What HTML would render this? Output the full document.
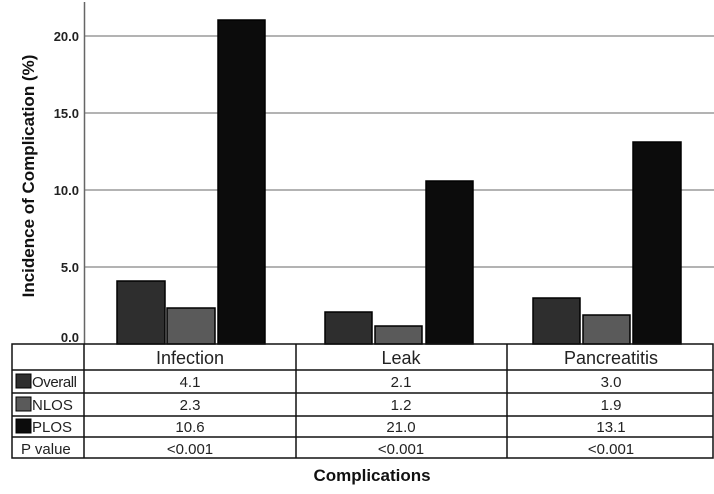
<!DOCTYPE html>
<html><head><style>body{margin:0;background:#fff}</style></head><body>
<svg width="714" height="489" xmlns="http://www.w3.org/2000/svg" font-family="Liberation Sans, Arial, sans-serif">
<rect width="714" height="489" fill="#fff"/>
<g stroke="#9a9a9a" stroke-width="1.5">
<line x1="84" y1="36" x2="714" y2="36"/><line x1="84" y1="113" x2="714" y2="113"/>
<line x1="84" y1="190" x2="714" y2="190"/><line x1="84" y1="267" x2="714" y2="267"/>
</g>
<line x1="84.5" y1="2" x2="84.5" y2="344" stroke="#666" stroke-width="1.5"/>
<g font-size="13" font-weight="bold" fill="#222" text-anchor="end">
<text x="79" y="41">20.0</text><text x="79" y="118">15.0</text><text x="79" y="195">10.0</text><text x="79" y="272">5.0</text><text x="79" y="342">0.0</text>
</g>
<text transform="translate(34,176) rotate(-90)" text-anchor="middle" font-size="17" font-weight="bold" fill="#111">Incidence of Complication (%)</text>
<g stroke="#000" stroke-width="1.5">
<rect x="117" y="281" width="48" height="63" fill="#2e2e2e"/>
<rect x="167" y="308" width="48" height="36" fill="#5a5a5a"/>
<rect x="218" y="20" width="47" height="324" fill="#0c0c0c"/>
<rect x="325" y="312" width="47" height="32" fill="#2e2e2e"/>
<rect x="375" y="326" width="47" height="18" fill="#5a5a5a"/>
<rect x="426" y="181" width="47" height="163" fill="#0c0c0c"/>
<rect x="533" y="298" width="47" height="46" fill="#2e2e2e"/>
<rect x="583" y="315" width="47" height="29" fill="#5a5a5a"/>
<rect x="633" y="142" width="48" height="202" fill="#0c0c0c"/>
</g>
<g stroke="#111" stroke-width="1.5" fill="none">
<rect x="12" y="344" width="701" height="114"/>
<line x1="12" y1="370" x2="713" y2="370"/><line x1="12" y1="393" x2="713" y2="393"/>
<line x1="12" y1="416" x2="713" y2="416"/><line x1="12" y1="437" x2="713" y2="437"/>
<line x1="84" y1="344" x2="84" y2="458"/><line x1="296" y1="344" x2="296" y2="458"/><line x1="507" y1="344" x2="507" y2="458"/>
</g>
<g font-size="18" fill="#222" text-anchor="middle">
<text x="190" y="364">Infection</text><text x="401" y="364">Leak</text><text x="611" y="364">Pancreatitis</text>
</g>
<g font-size="15" fill="#222" text-anchor="middle">
<text x="190" y="387">4.1</text><text x="401" y="387">2.1</text><text x="611" y="387">3.0</text>
<text x="190" y="410">2.3</text><text x="401" y="410">1.2</text><text x="611" y="410">1.9</text>
<text x="190" y="432">10.6</text><text x="401" y="432">21.0</text><text x="611" y="432">13.1</text>
<text x="190" y="454">&lt;0.001</text><text x="401" y="454">&lt;0.001</text><text x="611" y="454">&lt;0.001</text>
</g>
<g stroke="#000" stroke-width="1">
<rect x="16" y="374" width="15" height="14" fill="#2e2e2e"/>
<rect x="16" y="397" width="15" height="14" fill="#5a5a5a"/>
<rect x="16" y="419" width="15" height="14" fill="#0c0c0c"/>
</g>
<g font-size="15" fill="#222">
<text x="32" y="387" textLength="45">Overall</text><text x="32" y="410">NLOS</text><text x="32" y="432">PLOS</text>
<text x="21" y="454">P value</text>
</g>
<text x="372" y="481" text-anchor="middle" font-size="17" font-weight="bold" fill="#111">Complications</text>
</svg>
</body></html>
